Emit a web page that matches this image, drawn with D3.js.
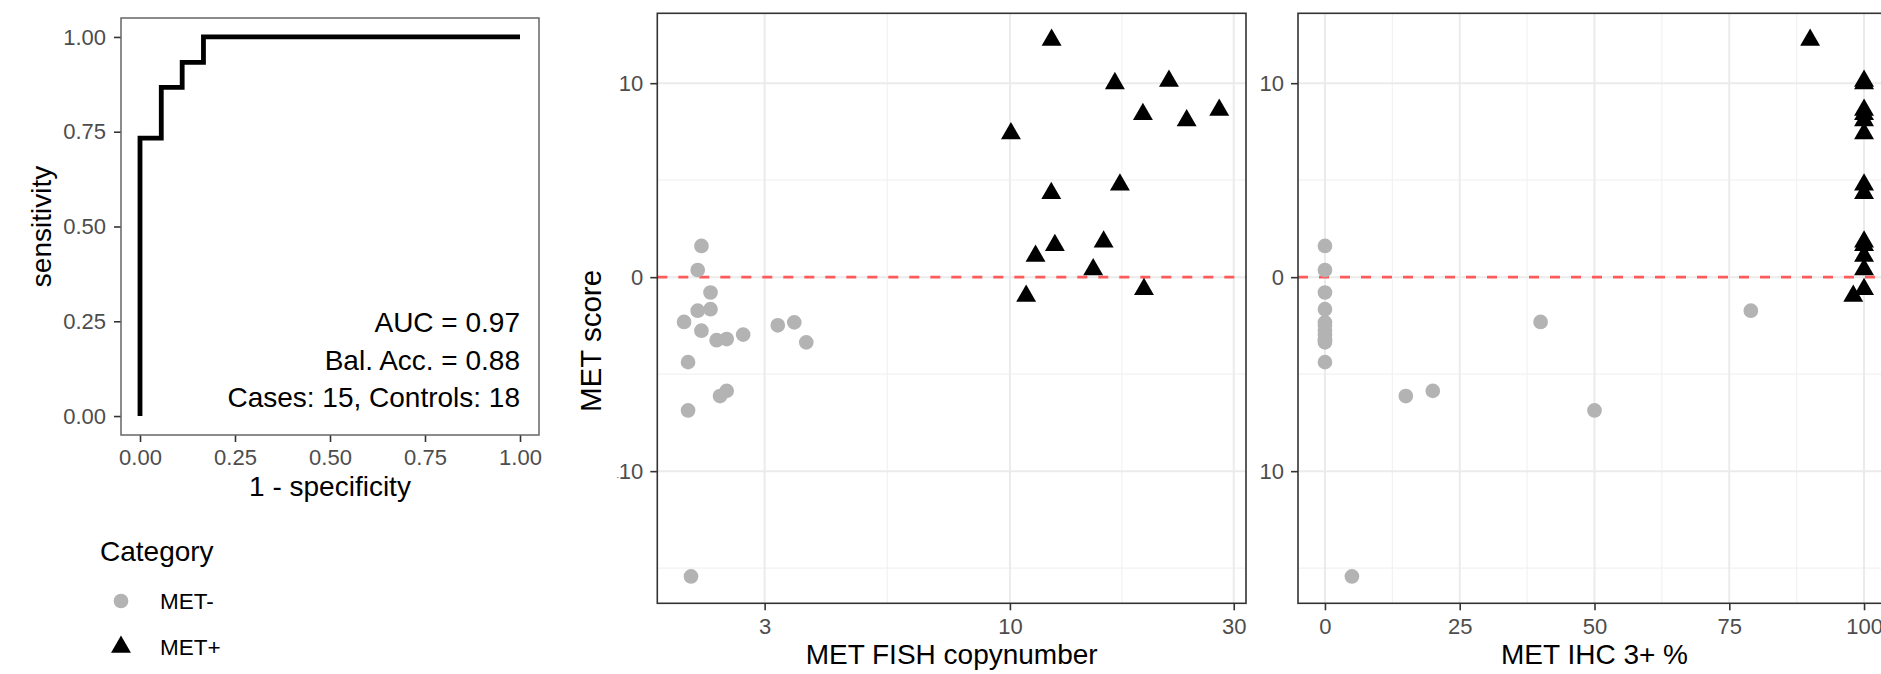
<!DOCTYPE html>
<html lang="en">
<head>
<meta charset="utf-8">
<title>MET score: ROC, FISH copynumber and IHC</title>
<script src="https://cdn.jsdelivr.net/npm/d3@7"></script>
<style>
  body { margin: 0; background: #fff; }
  svg { display: block; font-family: "Liberation Sans", Arial, sans-serif; }
  .tick text { font-size: 22px; fill: #4d4d4d; }
  .tick line { stroke: #333; stroke-width: 1.6; }
  .title { font-size: 28px; fill: #000; }
  .grid-major { stroke: #ebebeb; stroke-width: 2; }
  .grid-minor { stroke: #f2f2f2; stroke-width: 1.2; }
</style>
</head>
<body>
<script>

// ROC curve
var rocFpr = [0, 0, 0.056, 0.056, 0.111, 0.111, 0.167, 0.167, 1];
var rocTpr = [0, 0.733, 0.733, 0.867, 0.867, 0.933, 0.933, 1, 1];
var rocTicks = [0, 0.25, 0.5, 0.75, 1];
var rocNotes = ["AUC = 0.97", "Bal. Acc. = 0.88", "Cases: 15, Controls: 18"];

// MET- samples
var negFish  = [2.20, 2.16, 2.30, 2.16, 2.30, 2.02, 2.20, 2.37, 2.49, 2.70, 3.20, 3.47, 3.68, 2.06, 2.41, 2.49, 2.06, 2.09];
var negIhc   = [0, 0, 0, 79, 0, 40, 0, 0, 0, 0, 0, 0, 0, 0, 15, 20, 50, 5];
var negScore = [1.61, 0.37, -0.79, -1.73, -1.65, -2.31, -2.76, -3.25, -3.19, -2.96, -2.48, -2.33, -3.36, -4.38, -6.13, -5.86, -6.87, -15.43];

// MET+ samples
var posFish  = [12.27, 16.74, 21.83, 19.21, 23.81, 27.94, 10.05, 12.25, 17.16, 12.47, 11.34, 15.84, 15.05, 10.83, 19.31];
var posIhc   = [90, 100, 100, 100, 100, 100, 100, 100, 100, 100, 100, 100, 100, 98, 100];
var posScore = [12.22, 9.99, 10.11, 8.40, 8.07, 8.62, 7.41, 4.32, 4.76, 1.64, 1.09, 1.83, 0.40, -0.97, -0.62];

var fishTicks = [3, 10, 30];
var ihcTicks = [0, 25, 50, 75, 100];
var ihcMinor = [12.5, 37.5, 62.5, 87.5];
var scoreTicks = [-10, 0, 10];
var scoreMinor = [-15, -5, 5];
var categories = ["MET-", "MET+"];

var w = 1881, h = 674;
var grey = "#b3b3b3";

var svg = d3.select("body").append("svg")
            .attr("width", w)
            .attr("height", h);

function expand(ext) {
  var d = (ext[1] - ext[0]) * 0.05;
  return [ext[0] - d, ext[1] + d];
}

var negPts = negFish.map(function(f, i) { return {fish: f, ihc: negIhc[i], score: negScore[i]}; });
var posPts = posFish.map(function(f, i) { return {fish: f, ihc: posIhc[i], score: posScore[i]}; });

var circleSym = d3.symbol().type(d3.symbolCircle).size(170);
var triSym = d3.symbol().type(d3.symbolTriangle).size(172);

function styleAxis(g) {
  g.attr("font-size", null).attr("font-family", null);
  g.select(".domain").remove();
}

// ---- ROC panel ----
var xRoc = d3.scaleLinear().domain([-0.05, 1.05]).range([121, 539]);
var yRoc = d3.scaleLinear().domain([-0.05, 1.05]).range([435, 18]);

svg.append("g")
   .attr("transform", "translate(0,435)")
   .call(d3.axisBottom(xRoc).tickValues(rocTicks).tickSize(7).tickPadding(7.5).tickFormat(d3.format(".2f")))
   .call(styleAxis);

svg.append("g")
   .attr("transform", "translate(121,0)")
   .call(d3.axisLeft(yRoc).tickValues(rocTicks).tickSize(7).tickPadding(8).tickFormat(d3.format(".2f")))
   .call(styleAxis);

svg.append("rect")
   .attr("x", 121).attr("y", 18)
   .attr("width", 418).attr("height", 417)
   .attr("fill", "none")
   .attr("stroke", "#666")
   .attr("stroke-width", 1.5);

svg.append("path")
   .datum(rocFpr.map(function(f, i) { return [f, rocTpr[i]]; }))
   .attr("fill", "none")
   .attr("stroke", "#000")
   .attr("stroke-width", 4.8)
   .attr("d", d3.line().x(function(d) { return xRoc(d[0]); }).y(function(d) { return yRoc(d[1]); }));

svg.selectAll(".roc-note")
   .data(rocNotes)
   .enter().append("text")
   .attr("class", "title")
   .attr("x", xRoc(1))
   .attr("y", function(d, i) { return 332 + i * 37.5; })
   .attr("text-anchor", "end")
   .text(function(d) { return d; });

svg.append("text").attr("class", "title")
   .attr("x", 330).attr("y", 496)
   .attr("text-anchor", "middle")
   .text("1 - specificity");

svg.append("text").attr("class", "title")
   .attr("transform", "translate(51,226.5) rotate(-90)")
   .attr("text-anchor", "middle")
   .text("sensitivity");

// ---- legend ----
svg.append("text").attr("class", "title")
   .attr("x", 100).attr("y", 561)
   .text("Category");

var leg = svg.selectAll(".leg")
   .data(categories)
   .enter().append("g")
   .attr("transform", function(d, i) { return "translate(121," + (601 + i * 46) + ")"; });

leg.append("path")
   .attr("d", function(d, i) { return i === 0 ? circleSym() : triSym(); })
   .attr("fill", function(d, i) { return i === 0 ? grey : "#000"; });

leg.append("text")
   .attr("x", 39).attr("y", 8)
   .attr("font-size", 22.5)
   .text(function(d) { return d; });

// ---- scatter panels ----
var yScore = d3.scaleLinear()
               .domain(expand(d3.extent(negScore.concat(posScore))))
               .range([603.3, 13.3]);

function scatterPanel(opt) {
  var x = opt.x;
  var x0 = x.range()[0], x1 = x.range()[1];
  var g = svg.append("g");

  g.selectAll(".gx-minor").data(opt.minorX).enter().append("line")
   .attr("class", "grid-minor")
   .attr("x1", x).attr("x2", x).attr("y1", 13.3).attr("y2", 603.3);
  g.selectAll(".gy-minor").data(scoreMinor).enter().append("line")
   .attr("class", "grid-minor")
   .attr("x1", x0).attr("x2", x1).attr("y1", yScore).attr("y2", yScore);
  g.selectAll(".gx-major").data(opt.ticksX).enter().append("line")
   .attr("class", "grid-major")
   .attr("x1", x).attr("x2", x).attr("y1", 13.3).attr("y2", 603.3);
  g.selectAll(".gy-major").data(scoreTicks).enter().append("line")
   .attr("class", "grid-major")
   .attr("x1", x0).attr("x2", x1).attr("y1", yScore).attr("y2", yScore);

  g.append("line")
   .attr("x1", x0).attr("x2", x1)
   .attr("y1", yScore(0)).attr("y2", yScore(0))
   .attr("stroke", "#ff5a5a")
   .attr("stroke-width", 2.6)
   .attr("stroke-dasharray", "10,11");

  g.selectAll(".neg").data(negPts).enter().append("path")
   .attr("d", circleSym)
   .attr("fill", grey)
   .attr("transform", function(d) { return "translate(" + x(d[opt.key]) + "," + yScore(d.score) + ")"; });

  g.selectAll(".pos").data(posPts).enter().append("path")
   .attr("d", triSym)
   .attr("fill", "#000")
   .attr("transform", function(d) { return "translate(" + x(d[opt.key]) + "," + yScore(d.score) + ")"; });

  g.append("rect")
   .attr("x", x0).attr("y", 13.3)
   .attr("width", x1 - x0).attr("height", 590)
   .attr("fill", "none")
   .attr("stroke", "#333")
   .attr("stroke-width", 1.6);

  svg.append("g")
     .attr("transform", "translate(0,603.3)")
     .call(d3.axisBottom(x).tickValues(opt.ticksX).tickSize(7).tickPadding(8.5).tickFormat(d3.format("d")))
     .call(styleAxis);

  var ya = svg.append("g")
     .attr("transform", "translate(" + x0 + ",0)")
     .call(d3.axisLeft(yScore).tickValues(scoreTicks).tickSize(7).tickPadding(7).tickFormat(function(d) { return Math.abs(d); }))
     .call(styleAxis);

  // the minus of the negative label is nearly invisible in the source
  ya.selectAll(".tick text")
    .filter(function(d) { return d < 0; })
    .each(function(d) {
      var t = d3.select(this);
      t.text(null);
      t.append("tspan").attr("font-size", opt.minusSize).attr("fill-opacity", opt.minusOpacity).text("-");
      t.append("tspan").text(Math.abs(d));
    });

  svg.append("text").attr("class", "title")
     .attr("x", (x0 + x1) / 2).attr("y", 664)
     .attr("text-anchor", "middle")
     .text(opt.title);
}

var xFish = d3.scaleLog()
              .domain(expand(d3.extent(negFish.concat(posFish)).map(Math.log10)).map(function(v) { return Math.pow(10, v); }))
              .range([657.3, 1246]);

var xIhc = d3.scaleLinear()
             .domain(expand(d3.extent(negIhc.concat(posIhc))))
             .range([1298, 1891]);

scatterPanel({x: xFish, key: "fish", ticksX: fishTicks,
              minorX: [Math.sqrt(fishTicks[0] * fishTicks[1]), Math.sqrt(fishTicks[1] * fishTicks[2])],
              title: "MET FISH copynumber", minusSize: 7, minusOpacity: 1});

scatterPanel({x: xIhc, key: "ihc", ticksX: ihcTicks, minorX: ihcMinor,
              title: "MET IHC 3+ %", minusSize: 22, minusOpacity: 0});

svg.append("text")
   .attr("transform", "translate(601,341) rotate(-90)")
   .attr("text-anchor", "middle")
   .attr("font-size", 29.5)
   .text("MET score");

</script>
</body>
</html>
